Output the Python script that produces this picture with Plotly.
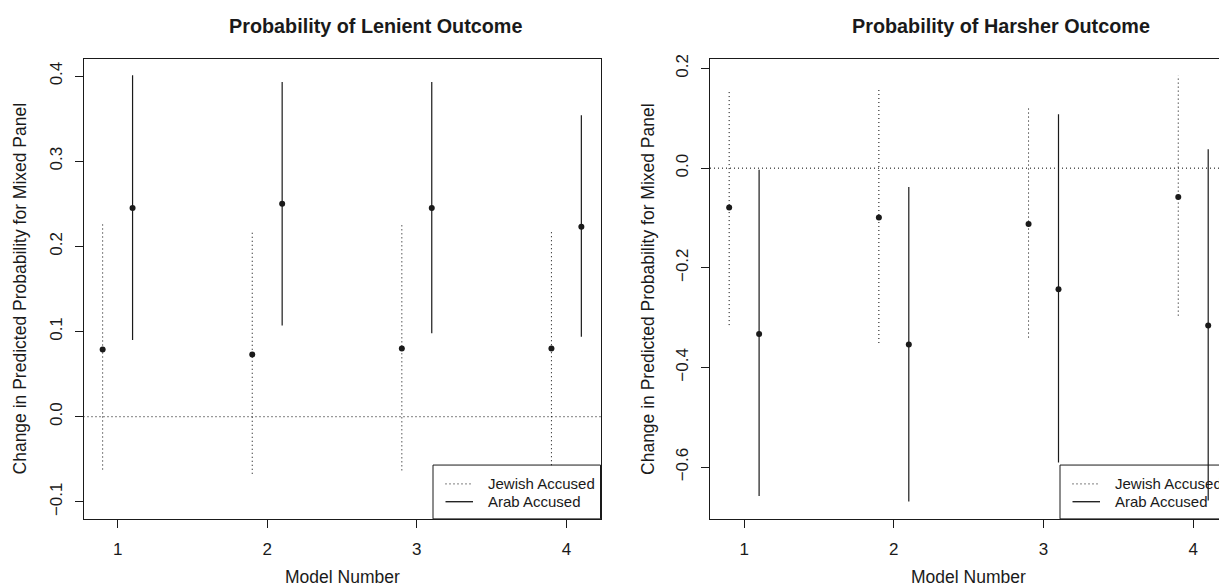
import plotly.graph_objects as go

# ---------------- data ----------------
models = [1, 2, 3, 4]
x_tick_labels = ["1", "2", "3", "4"]

# Panel 1: Probability of Lenient Outcome
jewish_est_len = [0.079, 0.073, 0.080, 0.080]
jewish_lo_len = [-0.062, -0.067, -0.063, -0.057]
jewish_hi_len = [0.226, 0.216, 0.225, 0.218]
arab_est_len = [0.245, 0.250, 0.245, 0.223]
arab_lo_len = [0.090, 0.107, 0.098, 0.094]
arab_hi_len = [0.401, 0.393, 0.393, 0.354]
y_ticks_len = [-0.1, 0.0, 0.1, 0.2, 0.3, 0.4]

# Panel 2: Probability of Harsher Outcome
jewish_est_harsh = [-0.079, -0.099, -0.112, -0.058]
jewish_lo_harsh = [-0.315, -0.351, -0.340, -0.296]
jewish_hi_harsh = [0.158, 0.162, 0.124, 0.186]
arab_est_harsh = [-0.333, -0.354, -0.243, -0.316]
arab_lo_harsh = [-0.658, -0.669, -0.591, -0.667]
arab_hi_harsh = [-0.003, -0.038, 0.108, 0.038]
y_ticks_harsh = [-0.6, -0.4, -0.2, 0.0, 0.2]

titles = ["Probability of Lenient Outcome", "Probability of Harsher Outcome"]
legend_labels = ["Jewish Accused", "Arab Accused"]
x_title = "Model Number"
y_title = "Change in Predicted Probability for Mixed Panel"

# ---------------- style ----------------
W, H = 1219, 588
OFFSET = 0.1
DOT = "1px,3px"
INK = "#1a1a1a"
FONT = "Liberation Sans, Arial, Helvetica, sans-serif"


def px(x):
    return x / W


def py(y):
    return 1 - y / H


def seg(xs, lo, hi):
    X, Y = [], []
    for x, a, b in zip(xs, lo, hi):
        X += [x, x, None]
        Y += [a, b, None]
    return X, Y


fig = go.Figure()

panels = [
    (jewish_est_len, jewish_lo_len, jewish_hi_len, arab_est_len, arab_lo_len, arab_hi_len, "x", "y"),
    (jewish_est_harsh, jewish_lo_harsh, jewish_hi_harsh, arab_est_harsh, arab_lo_harsh, arab_hi_harsh, "x2", "y2"),
]

for je, jl, jh, ae, al, ah, xa, ya in panels:
    xj = [m - OFFSET for m in models]
    xr = [m + OFFSET for m in models]
    X, Y = seg(xj, jl, jh)
    fig.add_trace(go.Scatter(x=X, y=Y, mode="lines", xaxis=xa, yaxis=ya,
                             line=dict(color="black", width=1, dash=DOT),
                             showlegend=False, hoverinfo="skip"))
    X, Y = seg(xr, al, ah)
    fig.add_trace(go.Scatter(x=X, y=Y, mode="lines", xaxis=xa, yaxis=ya,
                             line=dict(color=INK, width=1.2),
                             showlegend=False, hoverinfo="skip"))
    fig.add_trace(go.Scatter(x=xj + xr, y=je + ae, mode="markers", xaxis=xa, yaxis=ya,
                             marker=dict(color=INK, size=6), showlegend=False))

# plot regions (pixels)
top_px, bot_px = 54.5, 518.3
L1, R1 = 83.5, 600.5
L2 = 710.0

axis_common = dict(
    showline=True, linecolor=INK, linewidth=1, ticks="outside", ticklen=8,
    tickcolor=INK, tickwidth=1, showgrid=False, zeroline=False,
    tickfont=dict(family=FONT, size=17, color=INK),
)

fig.update_layout(
    width=W, height=H, margin=dict(l=0, r=0, t=0, b=0),
    paper_bgcolor="white", plot_bgcolor="white", showlegend=False,
    font=dict(family=FONT, color=INK),
    xaxis=dict(domain=[px(L1), px(R1)], range=[0.772, 4.228], anchor="y",
               tickvals=models, ticktext=x_tick_labels, mirror=True,
               ticklabelstandoff=7, **axis_common),
    yaxis=dict(domain=[py(bot_px), py(top_px)], range=[-0.12, 0.42], anchor="x",
               tickvals=y_ticks_len, tickformat=".1f", tickangle=-90, mirror=True,
               ticklabelstandoff=6, **axis_common),
    xaxis2=dict(domain=[px(L2), 1.0], range=[0.772, 0.772 + (W - L2) / 149.7], anchor="y2",
                tickvals=models, ticktext=x_tick_labels, mirror=True,
                ticklabelstandoff=7, **axis_common),
    yaxis2=dict(domain=[py(bot_px), py(top_px)], range=[-0.704, 0.219], anchor="x2",
                tickvals=y_ticks_harsh, tickformat=".1f", tickangle=-90, mirror=False,
                ticklabelstandoff=6, **axis_common),
)

shapes = []
annotations = []

# zero reference lines
for xa, ya in [("x", "y"), ("x2", "y2")]:
    shapes.append(dict(type="line", xref=f"{xa} domain", yref=ya, x0=0, x1=1, y0=0, y1=0,
                       line=dict(color="black", width=1, dash=DOT), layer="below"))

# legends (drawn manually, bottom-right of each panel)
for leg_left, box_right in [(433.0, R1), (1060.0, W + 60)]:
    shapes.append(dict(type="rect", xref="paper", yref="paper",
                       x0=px(leg_left), x1=px(box_right), y0=py(bot_px), y1=py(464.0),
                       line=dict(color=INK, width=1), fillcolor="white", layer="below"))
    for yy, lab, dash, wdt in [(483.0, legend_labels[0], DOT, 1), (501.0, legend_labels[1], "solid", 1.2)]:
        shapes.append(dict(type="line", xref="paper", yref="paper",
                           x0=px(leg_left + 12.5), x1=px(leg_left + 40), y0=py(yy), y1=py(yy),
                           line=dict(color="black", width=wdt, dash=dash)))
        annotations.append(dict(text=lab, xref="paper", yref="paper", x=px(leg_left + 53), y=py(yy),
                                xanchor="left", yanchor="middle", showarrow=False,
                                font=dict(family=FONT, size=15, color=INK)))

# titles
for cx, t in [(375.0, titles[0]), (1001.0, titles[1])]:
    annotations.append(dict(text=f"<b>{t}</b>", xref="paper", yref="paper", x=px(cx), y=py(21.0),
                            xanchor="center", yanchor="middle", showarrow=False,
                            font=dict(family=FONT, size=19.8, color=INK)))

# axis titles
for cx in [342.0, 968.5]:
    annotations.append(dict(text=x_title, xref="paper", yref="paper", x=px(cx), y=py(577.0),
                            xanchor="center", yanchor="middle", showarrow=False,
                            font=dict(family=FONT, size=17.5, color=INK)))
for cx in [19.5, 648.0]:
    annotations.append(dict(text=y_title, xref="paper", yref="paper", x=px(cx), y=py(286.4),
                            xanchor="center", yanchor="middle", showarrow=False, textangle=-90,
                            font=dict(family=FONT, size=17.5, color=INK)))

fig.update_layout(shapes=shapes, annotations=annotations)

fig.write_html(
    "out.html",
    config={"displayModeBar": False},
    post_script="document.body.style.margin='0px';document.body.style.overflow='hidden';",
)
